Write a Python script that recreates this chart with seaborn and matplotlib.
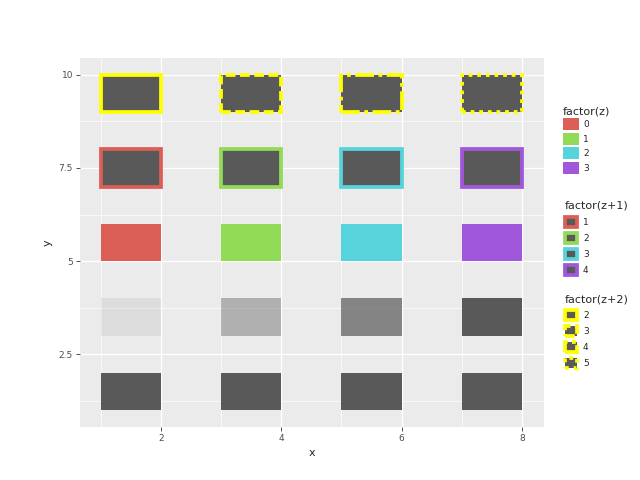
import numpy as np
import pandas as pd
import seaborn as sns
import matplotlib
matplotlib.use("Agg")
import matplotlib.pyplot as plt
from matplotlib.patches import Patch
from matplotlib.ticker import FixedLocator

# ---- data ----
z = [0, 1, 2, 3]
xmin = [1, 3, 5, 7]
xmax = [2, 4, 6, 8]
row_ymin = [1, 3, 5, 7, 9]
row_ymax = [2, 4, 6, 8, 10]
hue_colors = ["#db5f57", "#91db57", "#57d3db", "#a157db"]
line_types = ["solid", "dashed", "dashdot", "dotted"]
alpha_range = (0.1, 1.0)
x_ticks = [2, 4, 6, 8]
y_ticks = [2.5, 5, 7.5, 10]
y_tick_labels = ["2.5", "5", "7.5", "10"]
legend_titles = ["factor(z)", "factor(z+1)", "factor(z+2)"]
labels_z = ["0", "1", "2", "3"]
labels_z1 = ["1", "2", "3", "4"]
labels_z2 = ["2", "3", "4", "5"]

GRAY = "#595959"
YELLOW = "#ffff00"
LW = 2.7
ls_map = {"solid": "-", "dashed": (0, (2.6, 1.2)), "dashdot": (0, (5.0, 1.2, 1.0, 1.2)),
          "dotted": (0, (1.0, 1.3))}

sns.set_theme(style="darkgrid")
plt.rcParams.update({
    "axes.facecolor": "#ebebeb",
    "grid.color": "white",
    "axes.edgecolor": "none",
})
plt.rcParams["font.family"] = ["DejaVu Sans"]

df = pd.DataFrame({"z": z, "xmin": xmin, "xmax": xmax})
df["w"] = df["xmax"] - df["xmin"]
alphas = alpha_range[0] + (alpha_range[1] - alpha_range[0]) * (df["z"] - min(z)) / (max(z) - min(z))

fig = plt.figure(figsize=(6.4, 4.8), dpi=100)
ax = fig.add_axes([80 / 640, 53 / 480, 464 / 640, 369 / 480])

# row 1: plain
h = row_ymax[0] - row_ymin[0]
ax.bar(df["xmin"], h, width=df["w"], bottom=row_ymin[0], align="edge", color=GRAY, linewidth=0)
# row 2: alpha
h = row_ymax[1] - row_ymin[1]
for i in range(len(z)):
    ax.bar(df["xmin"][i], h, width=df["w"][i], bottom=row_ymin[1], align="edge",
           color=GRAY, alpha=alphas[i], linewidth=0)
# row 3: fill by factor(z)
h = row_ymax[2] - row_ymin[2]
ax.bar(df["xmin"], h, width=df["w"], bottom=row_ymin[2], align="edge", color=hue_colors, linewidth=0)
# row 4: colour by factor(z+1)
h = row_ymax[3] - row_ymin[3]
ax.bar(df["xmin"], h, width=df["w"], bottom=row_ymin[3], align="edge", color=GRAY,
       edgecolor=hue_colors, linewidth=LW)
# row 5: linetype by factor(z+2)
h = row_ymax[4] - row_ymin[4]
for i in range(len(z)):
    ax.bar(df["xmin"][i], h, width=df["w"][i], bottom=row_ymin[4], align="edge", color=GRAY,
           edgecolor=YELLOW, linewidth=LW, linestyle=ls_map[line_types[i]])

ax.set_xlim(0.655, 8.365)
ax.set_ylim(0.55, 10.45)
ax.set_xticks(x_ticks)
ax.set_xticklabels([str(t) for t in x_ticks])
ax.set_yticks(y_ticks)
ax.set_yticklabels(y_tick_labels)
ax.xaxis.set_minor_locator(FixedLocator([1, 3, 5, 7]))
ax.yaxis.set_minor_locator(FixedLocator([1.25, 3.75, 6.25, 8.75]))
ax.grid(which="major", color="white", linewidth=1.0)
ax.grid(which="minor", color="white", linewidth=0.5)
ax.set_axisbelow(True)
ax.tick_params(which="major", length=3, width=0.6, color="#333333", labelsize=6.5,
               labelcolor="#4d4d4d", pad=2, bottom=True, left=True)
ax.tick_params(which="minor", length=0)
ax.set_xlabel("x", fontsize=8, labelpad=4)
ax.set_ylabel("y", fontsize=8, labelpad=4)

# ---- legends ----
fs = 6.5
px = fs * 100 / 72
common = dict(loc="upper left", frameon=False, fontsize=fs, title_fontsize=8,
              borderpad=0, borderaxespad=0, alignment="left")

h1 = [Patch(facecolor=c, edgecolor="none") for c in hue_colors]
leg1 = fig.legend(h1, labels_z, title=legend_titles[0], bbox_to_anchor=(563 / 640, 1 - 106 / 480),
                  handlelength=16 / px, handleheight=15 / px, labelspacing=2.5 / px,
                  handletextpad=4 / px, **common)

h2 = [Patch(facecolor=GRAY, edgecolor=c, linewidth=LW) for c in hue_colors]
leg2 = fig.legend(h2, labels_z1, title=legend_titles[1], bbox_to_anchor=(565 / 640, 1 - 201 / 480),
                  handlelength=12 / px, handleheight=12 / px, labelspacing=6 / px,
                  handletextpad=6 / px, **common)

h3 = [Patch(facecolor=GRAY, edgecolor=YELLOW, linewidth=LW, linestyle=ls_map[t]) for t in line_types]
leg3 = fig.legend(h3, labels_z2, title=legend_titles[2], bbox_to_anchor=(565 / 640, 1 - 294 / 480),
                  handlelength=12 / px, handleheight=12 / px, labelspacing=6 / px,
                  handletextpad=6 / px, **common)

fig.savefig("out.png", dpi=100)
